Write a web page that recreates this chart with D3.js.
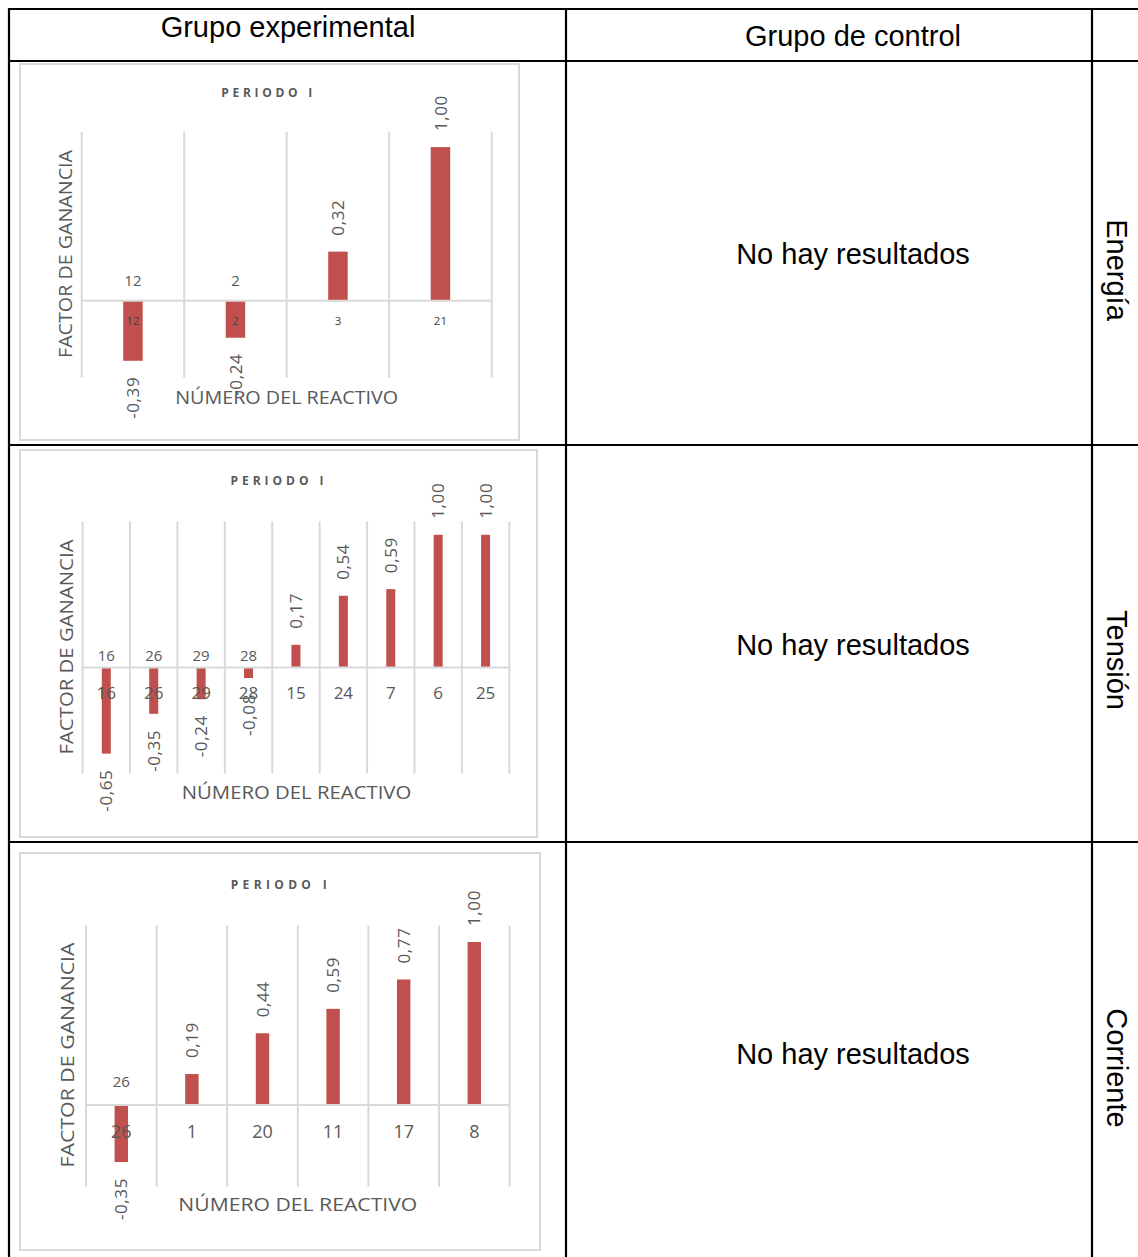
<!DOCTYPE html>
<html>
<head>
<meta charset="utf-8">
<script src="https://cdn.jsdelivr.net/npm/d3@7"></script>
<style>
  html, body { margin: 0; padding: 0; background: #fff; }
  svg { display: block; }
</style>
</head>
<body>
<svg id="page" width="1138" height="1257"></svg>
<script>
// Table headings and labels
const columnHeaders = ["Grupo experimental", "Grupo de control"];
const rowLabels = ["Energía", "Tensión", "Corriente"];
const emptyMessage = "No hay resultados";

// Chart texts
const chartTitle = "PERIODO I";
const yAxisTitle = "FACTOR DE GANANCIA";
const xAxisTitle = "NÚMERO DEL REACTIVO";

// Gain factor per item number, experimental group
const energiaReactivos = ["12", "2", "3", "21"];
const energiaFactor = [-0.39, -0.24, 0.32, 1.00];
const energiaRango = [-0.5, 1.1];

const tensionReactivos = ["16", "26", "29", "28", "15", "24", "7", "6", "25"];
const tensionFactor = [-0.65, -0.35, -0.24, -0.08, 0.17, 0.54, 0.59, 1.00, 1.00];
const tensionRango = [-0.8, 1.1];

const corrienteReactivos = ["26", "1", "20", "11", "17", "8"];
const corrienteFactor = [-0.35, 0.19, 0.44, 0.59, 0.77, 1.00];
const corrienteRango = [-0.5, 1.1];

const svg = d3.select("#page");
const tableFont = "'Liberation Sans', Arial, sans-serif";
const chartFont = "'Open Sans', 'Noto Sans', sans-serif";
const gridGray = "#d9d9d9";
const textGray = "#595959";
const barRed = "#c0504d";

const es = d3.formatLocale({ decimal: ",", thousands: ".", grouping: [3], currency: ["", " €"], minus: "-" });
const fmt = es.format(".2f");

// ---------- chart panels (left column) ----------
const panels = [
  { cats: energiaReactivos, vals: energiaFactor, domain: energiaRango,
    box: [20, 64, 499, 376], plot: [81.7, 491.7, 131.7, 377.7],
    title: [266.7, 92.3, 91], yTitle: [65, 254, 208], xTitle: [286.7, 396.7, 223],
    topOff: -20, topFs: 15, botOff: 20.5, botFs: 11.5, botFill: "#404040", valFs: 17 },
  { cats: tensionReactivos, vals: tensionFactor, domain: tensionRango,
    box: [20, 450, 517, 387], plot: [82.6, 509.3, 521.5, 773.5],
    title: [277, 480.5, 93], yTitle: [65.7, 647, 215], xTitle: [296.5, 792, 229.5],
    topOff: -11.5, topFs: 15, botOff: 25, botFs: 17, botFill: textGray, valFs: 17 },
  { cats: corrienteReactivos, vals: corrienteFactor, domain: corrienteRango,
    box: [20, 853, 520, 397], plot: [86, 509.6, 925.7, 1186.5],
    title: [278.7, 885, 96], yTitle: [67.4, 1055, 225], xTitle: [297.8, 1204, 239],
    topOff: -23, topFs: 15, botOff: 26.5, botFs: 18, botFill: textGray, valFs: 17 }
];

panels.forEach(p => {
  const g = svg.append("g").attr("font-family", chartFont);
  const [bx, by, bw, bh] = p.box;
  const [x0, x1, yTop, yBot] = p.plot;

  g.append("rect")
    .attr("x", bx).attr("y", by).attr("width", bw).attr("height", bh)
    .attr("fill", "#fff").attr("stroke", gridGray).attr("stroke-width", 2);

  const x = d3.scaleBand().domain(p.cats).range([x0, x1]).padding(0);
  const y = d3.scaleLinear().domain(p.domain).range([yBot, yTop]);
  const bw2 = x.bandwidth() * 0.19;
  const data = p.cats.map((c, i) => ({ cat: c, val: p.vals[i] }));

  // vertical category gridlines
  const edges = p.cats.map(c => x(c)).concat([x1]);
  g.append("g").selectAll("line").data(edges).join("line")
    .attr("x1", d => d).attr("x2", d => d)
    .attr("y1", yTop).attr("y2", yBot)
    .attr("stroke", gridGray).attr("stroke-width", 2);

  // bars
  g.append("g").selectAll("rect").data(data).join("rect")
    .attr("x", d => x(d.cat) + x.bandwidth() / 2 - bw2 / 2)
    .attr("width", bw2)
    .attr("y", d => Math.min(y(d.val), y(0)))
    .attr("height", d => Math.abs(y(d.val) - y(0)))
    .attr("fill", barRed);

  // zero line
  g.append("line")
    .attr("x1", x0).attr("x2", x1).attr("y1", y(0)).attr("y2", y(0))
    .attr("stroke", gridGray).attr("stroke-width", 2);

  // category labels below the zero line
  const axis = g.append("g")
    .attr("transform", `translate(0,${y(0)})`)
    .call(d3.axisBottom(x).tickSize(0).tickPadding(0));
  axis.select(".domain").remove();
  axis.selectAll("text")
    .attr("y", p.botOff).attr("dy", "0.36em")
    .attr("font-family", chartFont)
    .attr("font-size", p.botFs)
    .attr("fill", p.botFill);

  // category labels repeated above the zero line for negative bars
  g.append("g").selectAll("text").data(data.filter(d => d.val < 0)).join("text")
    .attr("x", d => x(d.cat) + x.bandwidth() / 2)
    .attr("y", y(0) + p.topOff).attr("dy", "0.36em")
    .attr("text-anchor", "middle")
    .attr("font-size", p.topFs).attr("fill", textGray)
    .text(d => d.cat);

  // value labels, rotated, at the end of each bar
  g.append("g").selectAll("text").data(data).join("text")
    .attr("transform", d => {
      const cx = x(d.cat) + x.bandwidth() / 2;
      const ty = d.val >= 0 ? y(d.val) - 16 : y(d.val) + 16;
      return `translate(${cx},${ty}) rotate(-90)`;
    })
    .attr("dy", "0.36em")
    .attr("text-anchor", d => d.val >= 0 ? "start" : "end")
    .attr("font-size", p.valFs).attr("fill", textGray)
    .attr("letter-spacing", 0.6)
    .text(d => fmt(d.val));

  // chart title
  g.append("text")
    .attr("x", p.title[0]).attr("y", p.title[1]).attr("dy", "0.36em")
    .attr("text-anchor", "middle")
    .attr("font-size", 12).attr("font-weight", 700).attr("fill", textGray)
    .attr("textLength", p.title[2]).attr("lengthAdjust", "spacing")
    .text(chartTitle);

  // axis titles
  g.append("text")
    .attr("transform", `translate(${p.yTitle[0]},${p.yTitle[1]}) rotate(-90)`)
    .attr("dy", "0.36em").attr("text-anchor", "middle")
    .attr("font-size", 19).attr("fill", textGray)
    .attr("textLength", p.yTitle[2]).attr("lengthAdjust", "spacingAndGlyphs")
    .text(yAxisTitle);

  g.append("text")
    .attr("x", p.xTitle[0]).attr("y", p.xTitle[1]).attr("dy", "0.36em")
    .attr("text-anchor", "middle")
    .attr("font-size", 19).attr("fill", textGray)
    .attr("textLength", p.xTitle[2]).attr("lengthAdjust", "spacingAndGlyphs")
    .text(xAxisTitle);
});

// ---------- table grid ----------
const tg = svg.append("g").attr("font-family", tableFont).attr("fill", "#000");
const hLines = [9, 61, 445, 842];
const vLines = [9, 566, 1092];
tg.selectAll("line.h").data(hLines).join("line").attr("class", "h")
  .attr("x1", 8).attr("x2", 1138).attr("y1", d => d).attr("y2", d => d)
  .attr("stroke", "#000").attr("stroke-width", 2.2);
tg.selectAll("line.v").data(vLines).join("line").attr("class", "v")
  .attr("x1", d => d).attr("x2", d => d).attr("y1", 8).attr("y2", 1257)
  .attr("stroke", "#000").attr("stroke-width", 2.2);

// headings
const headerPos = [[288, 37], [853, 45.5]];
tg.selectAll("text.head").data(columnHeaders).join("text").attr("class", "head")
  .attr("x", (d, i) => headerPos[i][0]).attr("y", (d, i) => headerPos[i][1])
  .attr("text-anchor", "middle").attr("font-size", 29)
  .text(d => d);

// control-group cells
const rowMid = [253, 644, 1053];
tg.selectAll("text.msg").data(rowMid).join("text").attr("class", "msg")
  .attr("x", 853).attr("y", d => d + 10.5)
  .attr("text-anchor", "middle").attr("font-size", 29)
  .text(emptyMessage);

// vertical row labels on the right
const labelMid = [270, 660, 1068];
tg.selectAll("text.row").data(rowLabels).join("text").attr("class", "row")
  .attr("transform", (d, i) => `translate(1107,${labelMid[i]}) rotate(90)`)
  .attr("text-anchor", "middle").attr("font-size", 29)
  .text(d => d);
</script>
</body>
</html>
